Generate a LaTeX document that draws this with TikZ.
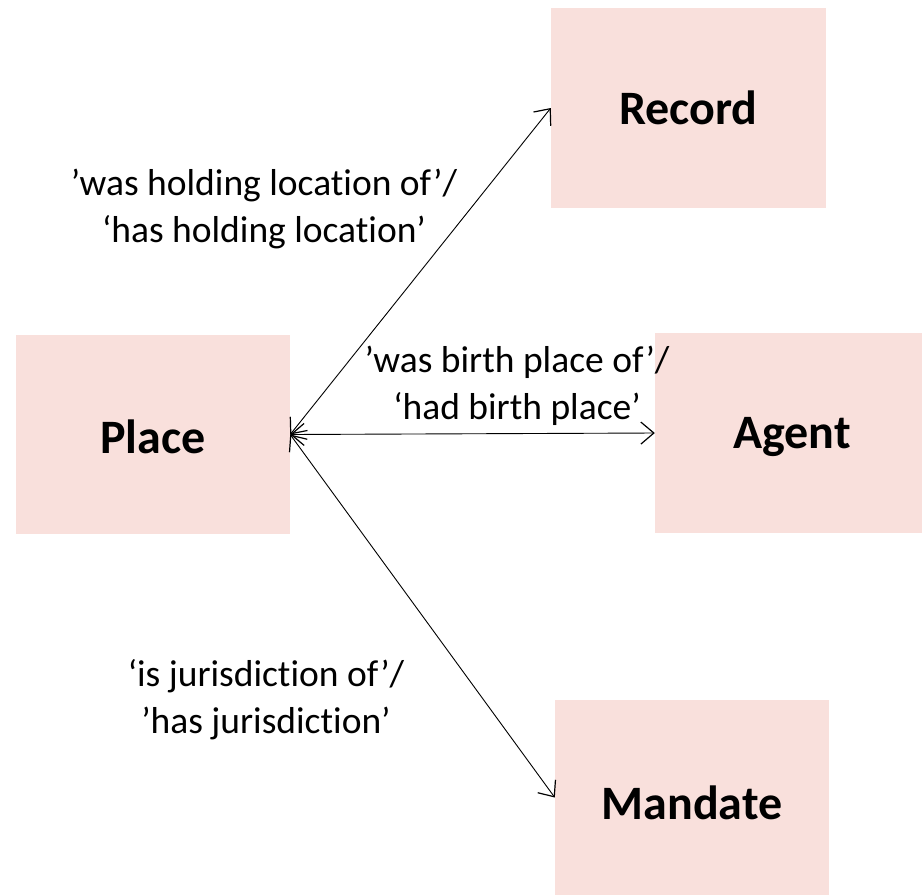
\documentclass[tikz,border=0pt]{standalone}
\usepackage{fontspec}
\setmainfont{Carlito}[RawFeature=-liga]
\usetikzlibrary{arrows.meta}
\definecolor{boxfill}{RGB}{249,224,220}
\begin{document}
\begin{tikzpicture}[x=1pt,y=-1pt,
  entity/.style={fill=boxfill,draw=none,inner sep=0pt},
  title/.style={font=\fontsize{48}{50}\selectfont\bfseries,inner sep=0pt},
  rel/.style={black,line width=0.9pt,{Straight Barb[length=13pt,width=22pt,line width=1.2pt]}-{Straight Barb[length=13pt,width=22pt,line width=1.2pt]}},
  lbl/.style={font=\fontsize{37.5}{47}\selectfont,align=center,inner sep=0pt}]
\useasboundingbox (0,0) rectangle (922,895);
% entity boxes
\node[entity,minimum width=274pt,minimum height=199pt] (place) at (153,434.5) {};
\node[entity,minimum width=275pt,minimum height=200pt] (record) at (688.5,108) {};
\node[entity,minimum width=267pt,minimum height=200pt] (agent) at (788.5,433) {};
\node[entity,minimum width=274pt,minimum height=195pt] (mandate) at (692,797.5) {};
% entity names
\node[title] (placetxt) at (153,437) {Place};
\node[title] (recordtxt) at (688.5,108) {Record};
\node[title] (agenttxt) at (792,437) {Agent};
\node[title] (mandatetxt) at (692,803) {Mandate};
% relations
\coordinate (hub) at (place.east);
\draw[rel] (hub) -- (record.west);
\draw[rel] (hub) -- (agent.west);
\draw[rel] (hub) -- (mandate.west);
\node[lbl] (l1) at (264,209) {’was holding location of’/\\‘has holding location’};
\node[lbl] (l2) at (517,386) {’was birth place of’/\\‘had birth place’};
\node[lbl] (l3) at (266,700) {‘is jurisdiction of’/\\’has jurisdiction’};
\end{tikzpicture}
\end{document}
